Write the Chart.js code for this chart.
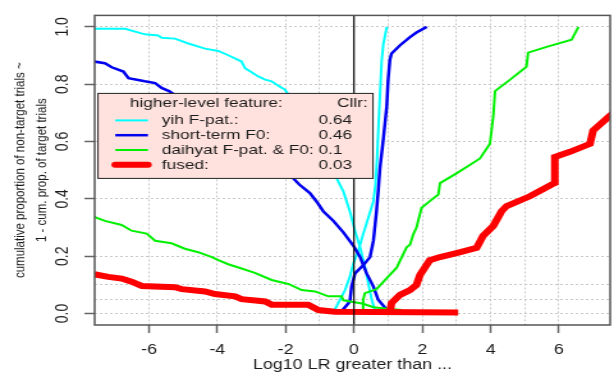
<!DOCTYPE html>
<html lang="en">
<head>
<meta charset="UTF-8">
<title>Tippett plot - Cllr by feature</title>
<script src="https://cdn.jsdelivr.net/npm/chart.js"></script>
<style>
  body { margin: 0; background: #fff; }
</style>
</head>
<body>
<!-- drawn on a 480px canvas and shown 614px wide, like the original R export -->
<canvas id="tippett" width="480" height="374" style="display:block;width:614px;height:374px"></canvas>
<script>
// [log10 LR, proportion] pairs, two curves per feature
const yihFalling = [[-7.6, 0.993], [-6.7, 0.993], [-6.12, 0.974], [-5.73, 0.97], [-5.63, 0.962], [-5.24, 0.959],
  [-4.85, 0.942], [-4.36, 0.924], [-3.97, 0.916], [-3.68, 0.901], [-3.29, 0.879], [-3.19, 0.856], [-2.8, 0.827],
  [-2.6, 0.816], [-2.41, 0.81], [-2.26, 0.798], [-2.02, 0.781], [-1.5, 0.7], [-1.0, 0.6], [-0.56, 0.484],
  [-0.31, 0.426], [-0.12, 0.357], [0.03, 0.289], [0.18, 0.231], [0.32, 0.163], [0.42, 0.105], [0.52, 0.048],
  [0.61, 0.014], [0.75, 0.005]];
const yihRising = [[-0.56, 0.005], [-0.56, 0.014], [-0.41, 0.048], [-0.26, 0.082], [-0.12, 0.128], [-0.02, 0.174],
  [0.13, 0.22], [0.27, 0.277], [0.42, 0.334], [0.57, 0.392], [0.63, 0.45], [0.68, 0.55], [0.72, 0.66],
  [0.76, 0.76], [0.81, 0.88], [0.86, 0.94], [0.96, 1.0]];

const shortTermFalling = [[-7.6, 0.879], [-7.29, 0.873], [-7.09, 0.859], [-6.75, 0.844], [-6.6, 0.821], [-6.12, 0.81],
  [-5.82, 0.804], [-5.63, 0.787], [-5.4, 0.775], [-4.5, 0.7], [-3.5, 0.62], [-2.5, 0.54], [-1.87, 0.483],
  [-1.6, 0.45], [-1.29, 0.42], [-1.09, 0.39], [-0.9, 0.357], [-0.6, 0.323], [-0.31, 0.283], [-0.02, 0.237],
  [0.18, 0.197], [0.37, 0.14], [0.57, 0.094], [0.71, 0.048], [0.91, 0.02], [1.0, 0.008]];
const shortTermRising = [[-0.36, 0.005], [-0.36, 0.008], [-0.12, 0.042], [-0.07, 0.094], [0.03, 0.14], [0.27, 0.168],
  [0.47, 0.197], [0.57, 0.254], [0.66, 0.357], [0.71, 0.426], [0.76, 0.506], [0.86, 0.609], [0.96, 0.724],
  [1.0, 0.815], [1.05, 0.884], [1.1, 0.907], [1.35, 0.936], [1.64, 0.964], [1.83, 0.98], [2.13, 1.0]];

const daihyatFalling = [[-7.6, 0.337], [-7.29, 0.323], [-6.8, 0.309], [-6.51, 0.289], [-6.07, 0.279], [-5.82, 0.254],
  [-5.34, 0.245], [-4.95, 0.226], [-4.56, 0.214], [-4.16, 0.197], [-3.97, 0.186], [-3.68, 0.172], [-3.29, 0.157],
  [-2.9, 0.142], [-2.41, 0.117], [-1.92, 0.103], [-1.53, 0.082], [-1.14, 0.077], [-0.75, 0.06], [-0.36, 0.06],
  [-0.31, 0.046], [0.27, 0.034], [0.57, 0.022], [1.05, 0.016], [1.4, 0.012]];
const daihyatRising = [[0.27, 0.005], [0.27, 0.048], [0.32, 0.071], [0.66, 0.085], [1.05, 0.135], [1.25, 0.16],
  [1.54, 0.231], [1.64, 0.24], [1.74, 0.277], [1.83, 0.3], [1.98, 0.369], [2.22, 0.392], [2.47, 0.415],
  [2.52, 0.455], [3.0, 0.489], [3.39, 0.518], [3.69, 0.541], [3.98, 0.592], [4.08, 0.69], [4.13, 0.776],
  [4.57, 0.816], [5.05, 0.861], [5.1, 0.91], [5.64, 0.93], [6.37, 0.955], [6.57, 1.0]];

const fusedFalling = [[-7.6, 0.137], [-7.19, 0.128], [-6.8, 0.122], [-6.51, 0.111], [-6.21, 0.096], [-5.24, 0.092],
  [-5.04, 0.085], [-4.36, 0.077], [-4.07, 0.068], [-3.48, 0.06], [-3.29, 0.05], [-2.6, 0.042], [-2.41, 0.031],
  [-1.34, 0.031], [-1.04, 0.012], [-0.56, 0.006], [3.05, 0.004]];
const fusedRising = [[1.05, 0.002], [1.1, 0.037], [1.35, 0.065], [1.64, 0.082], [1.83, 0.1], [1.93, 0.134],
  [2.22, 0.186], [2.52, 0.197], [3.0, 0.211], [3.59, 0.229], [3.78, 0.271], [4.08, 0.306], [4.32, 0.357],
  [4.47, 0.375], [5.15, 0.409], [5.79, 0.45], [5.88, 0.455], [5.88, 0.546], [6.32, 0.564], [6.91, 0.592],
  [7.0, 0.638], [7.49, 0.69], [7.6, 0.7]];

const featureNames = ['yih F-pat.:', 'short-term F0:', 'daihyat F-pat. & F0:', 'fused:'];
const cllrValues = [0.64, 0.46, 0.1, 0.03];

const xTickLabels = [-6, -4, -2, 0, 2, 4, 6];
const xExtraGrid = [-1, 1, 3, 5];
const yTickLabels = [0, 0.2, 0.4, 0.6, 0.8, 1.0];
const yExtraGrid = [0.05, 0.1];

// line style per feature, same order as featureNames
const featureStyles = [
  { color: '#00FFFF', width: 2 },
  { color: '#0000F0', width: 2.5 },
  { color: '#00F000', width: 2 },
  { color: '#FF0000', width: 6 }
];
const curvePairs = [
  [yihFalling, yihRising],
  [shortTermFalling, shortTermRising],
  [daihyatFalling, daihyatRising],
  [fusedFalling, fusedRising]
];

const toXY = pts => pts.map(([x, y]) => ({ x, y }));
const NONE = 'rgba(0,0,0,0)';
const GRID = '#c8c8c8';
const TEXT = '#1c1c1c';

const datasets = [];
curvePairs.forEach((pair, i) => {
  pair.forEach(pts => datasets.push({
    data: toXY(pts),
    borderColor: featureStyles[i].color,
    borderWidth: featureStyles[i].width,
    order: 10 - i,
    pointRadius: 0,
    tension: 0
  }));
});
// the LR = 1 reference line
datasets.push({
  data: [{ x: 0, y: -0.04 }, { x: 0, y: 1.04 }],
  borderColor: '#000',
  borderWidth: 1.2,
  order: 0,
  pointRadius: 0
});

// box round the plot region and the Cllr legend on top of it
const frameAndLegend = {
  id: 'frameAndLegend',
  afterDraw(chart) {
    const { ctx, chartArea: a } = chart;
    ctx.save();
    ctx.strokeStyle = '#555';
    ctx.lineWidth = 1.5;
    ctx.strokeRect(a.left, a.top, a.right - a.left, a.bottom - a.top);

    const bx = a.left + 2.6, by = a.top + 78, bw = 215, bh = 85;
    ctx.fillStyle = '#FFE2DD';
    ctx.fillRect(bx, by, bw, bh);
    ctx.strokeStyle = '#222';
    ctx.lineWidth = 1;
    ctx.strokeRect(bx, by, bw, bh);

    ctx.font = '13.5px "Liberation Sans", Arial, sans-serif';
    ctx.fillStyle = TEXT;
    ctx.textBaseline = 'middle';
    ctx.textAlign = 'left';
    ctx.fillText('higher-level feature:', bx + 25, by + 9.5);
    ctx.textAlign = 'right';
    ctx.fillText('Cllr:', bx + bw - 4, by + 9.5);

    ctx.textAlign = 'left';
    const textX = bx + 50;
    const widest = Math.max(...featureNames.map(n => ctx.measureText(n + ' ').width));
    featureNames.forEach((name, i) => {
      const rowY = by + 27 + i * 14.8;
      ctx.strokeStyle = featureStyles[i].color;
      ctx.lineWidth = featureStyles[i].width;
      ctx.lineCap = i === 3 ? 'round' : 'butt';
      ctx.beginPath();
      ctx.moveTo(bx + 13.5, rowY);
      ctx.lineTo(bx + 39, rowY);
      ctx.stroke();
      ctx.fillText(name, textX, rowY);
      ctx.fillText(String(cllrValues[i]), textX + widest, rowY);
    });
    ctx.restore();
  }
};

Chart.defaults.font.family = '"Liberation Sans", Arial, sans-serif';
Chart.defaults.color = TEXT;

new Chart(document.getElementById('tippett'), {
  type: 'line',
  data: { datasets },
  options: {
    responsive: false,
    devicePixelRatio: 1,
    animation: false,
    events: [],
    layout: { padding: { top: 10, right: 3, left: 0, bottom: 0 } },
    plugins: { legend: { display: false }, tooltip: { enabled: false } },
    scales: {
      x: {
        type: 'linear',
        min: -7.59,
        max: 7.5,
        afterFit: s => { s.height = 49; },
        afterBuildTicks: s => {
          s.ticks = [...xTickLabels, ...xExtraGrid].sort((p, q) => p - q).map(v => ({ value: v }));
        },
        ticks: {
          autoSkip: false,
          maxRotation: 0,
          padding: 9,
          font: { size: 14 },
          callback: v => (xTickLabels.includes(v) ? String(v) : '')
        },
        grid: {
          color: c => (c.tick && c.tick.value === 0 ? NONE : GRID),
          lineWidth: 1,
          tickLength: 8,
          tickWidth: 1.5,
          tickColor: c => (c.tick && xTickLabels.includes(c.tick.value) ? '#666' : NONE)
        },
        border: { display: false, dash: [2, 2] },
        title: {
          display: true,
          text: 'Log10 LR greater than ...',
          font: { size: 14 },
          padding: { top: 0, bottom: 0 }
        }
      },
      y: {
        type: 'linear',
        min: -0.04,
        max: 1.04,
        afterFit: s => { s.width = 74; },
        afterBuildTicks: s => {
          s.ticks = [...yTickLabels, ...yExtraGrid].sort((p, q) => p - q).map(v => ({ value: v }));
        },
        ticks: {
          autoSkip: false,
          minRotation: 90,
          maxRotation: 90,
          crossAlign: 'center',
          padding: 7,
          font: { size: 14 },
          callback: v => (yTickLabels.includes(v) ? v.toFixed(1) : '')
        },
        grid: {
          color: GRID,
          lineWidth: 1,
          tickLength: 8,
          tickWidth: 1.5,
          tickColor: c => (c.tick && yTickLabels.includes(c.tick.value) ? '#666' : NONE)
        },
        border: { display: false, dash: [2, 2] },
        title: {
          display: true,
          text: ['cumulative proportion of non-target trials ~', '1 - cum. prop. of target trials'],
          font: { size: 11.5, lineHeight: 1.5 },
          padding: { top: 7, bottom: 0 }
        }
      }
    }
  },
  plugins: [frameAndLegend]
});
</script>
</body>
</html>
